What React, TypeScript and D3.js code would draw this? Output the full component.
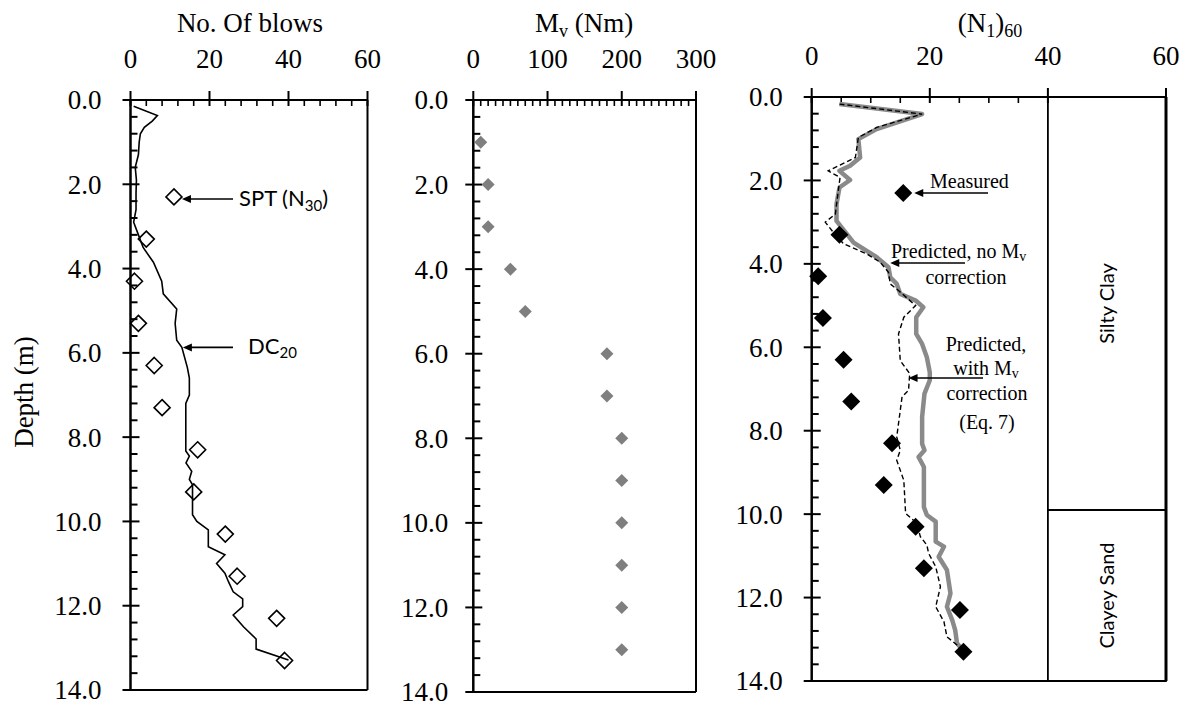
import React from 'react'
import { scaleLinear, line, range } from 'd3'

const W = 1189
const H = 709

// depth axis (m), shared by all three panels
const depthTicks = [0, 2, 4, 6, 8, 10, 12, 14]
const blowTicks = [0, 20, 40, 60]
const mvTicks = [0, 100, 200, 300]
const n60Ticks = [0, 20, 40, 60]

// panel 1: SPT (N30) and DC20 blow counts
const sptDepth = [2.3, 3.3, 4.3, 5.3, 6.3, 7.3, 8.3, 9.3, 10.3, 11.3, 12.3, 13.3]
const sptBlows = [11, 4, 1, 2, 6, 8, 17, 16, 24, 27, 37, 39]

const dcDepth = [0.15, 0.37, 0.5, 0.65, 0.8, 1.0, 1.3, 1.6, 1.9, 2.2, 2.6, 2.9, 3.1, 3.5, 3.85, 4.3, 4.6, 4.96, 5.3, 5.7, 5.87, 6.35, 6.6, 7.0, 7.2, 8.33, 8.45, 8.61, 8.81, 9.0, 9.13, 9.84, 10.0, 10.2, 10.6, 10.79, 11.0, 11.23, 11.43, 11.67, 11.84, 12.02, 12.22, 12.5, 12.79, 13.03, 13.29]
const dcBlows = [0.8, 6.8, 5.5, 3.5, 2.5, 2.2, 2.0, 1.2, 1.5, 1.4, 1.4, 0.8, 1.6, 3.2, 5.8, 7.9, 8.3, 11.7, 11.3, 11.7, 13.0, 14.4, 14.9, 14.9, 14.0, 14.0, 14.9, 14.05, 15.5, 14.9, 15.7, 15.7, 16.8, 19.7, 19.7, 23.9, 21.8, 23.9, 24.8, 26.0, 28.4, 28.4, 26.0, 28.6, 31.8, 31.8, 40]

// panel 2: Mv (Nm)
const mvDepth = [1, 2, 3, 4, 5, 6, 7, 8, 9, 10, 11, 12, 13]
const mvValues = [10, 20, 20, 50, 70, 180, 180, 200, 200, 200, 200, 200, 200]

// panel 3: (N1)60
const measDepth = [2.3, 3.3, 4.3, 5.3, 6.3, 7.3, 8.3, 9.3, 10.3, 11.3, 12.3, 13.3]
const measN = [15.5, 4.7, 1.1, 1.9, 5.4, 6.7, 13.6, 12.2, 17.6, 19.0, 25.1, 25.7]

const noCorrDepth = [0.17, 0.41, 0.77, 1.01, 1.45, 1.65, 1.77, 1.99, 2.17, 2.57, 2.97, 3.13, 3.49, 3.84, 4.08, 4.32, 4.48, 4.72, 4.88, 5.04, 5.28, 5.68, 5.92, 6.24, 6.6, 6.79, 7.11, 7.67, 8.31, 8.47, 8.63, 8.87, 9.83, 10.02, 10.18, 10.66, 10.78, 11.02, 11.34, 11.9, 12.22, 12.54, 12.78, 13.09, 13.25]
const noCorrN = [4.7, 18.7, 11.0, 7.9, 8.2, 6.5, 4.7, 6.5, 4.7, 4.2, 4.2, 5.1, 7.1, 11.0, 13.0, 13.3, 14.4, 15.0, 17.6, 18.9, 17.7, 17.7, 18.7, 19.5, 20.0, 20.0, 19.1, 18.7, 18.7, 19.1, 18.1, 19.0, 19.0, 19.5, 21.0, 21.0, 22.4, 21.5, 22.9, 23.5, 22.9, 23.8, 24.3, 24.6, 25.5]

const withCorrDepth = [0.17, 0.41, 0.73, 0.97, 1.45, 1.77, 1.93, 2.25, 2.81, 3.0, 3.25, 3.52, 3.76, 3.96, 4.2, 4.48, 4.64, 5.0, 5.28, 5.68, 6.32, 6.63, 7.03, 7.19, 8.15, 8.47, 8.71, 9.19, 9.98, 10.22, 10.54, 10.74, 10.94, 11.26, 11.74, 12.22, 12.58, 12.94, 13.17, 13.33]
const withCorrN = [4.7, 18.7, 11.0, 7.9, 7.4, 2.8, 4.8, 4.5, 4.0, 2.3, 3.7, 5.4, 9.3, 11.6, 13.0, 13.3, 14.7, 17.6, 15.6, 14.7, 15.0, 16.6, 16.4, 15.3, 14.4, 15.0, 14.4, 15.6, 15.9, 17.8, 18.4, 19.5, 19.8, 21.0, 21.8, 21.0, 22.4, 22.9, 24.9, 25.5]

// soil column
const soilNames = ['Silty Clay', 'Clayey Sand']
const soilTop = [0, 9.9]
const soilBottom = [9.9, 14]

const serif = "'Liberation Serif', 'Times New Roman', serif"
const sans = "Lato, 'Open Sans', sans-serif"

const x1 = scaleLinear().domain([0, 60]).range([130.5, 367.5])
const y1 = scaleLinear().domain([0, 14]).range([100, 690])
const x2 = scaleLinear().domain([0, 300]).range([473.3, 696])
const y2 = scaleLinear().domain([0, 14]).range([100, 692])
const x3 = scaleLinear().domain([0, 60]).range([811.7, 1166])
const y3 = scaleLinear().domain([0, 14]).range([97, 681])

const diamond = (r: number) => `M0,${-r}L${r},0L0,${r}L${-r},0Z`

const Frame = ({ xs, ys, xTicks, xMinor, yMinor, labelGap, minorMax }: any) => {
    const [l, r] = xs.range()
    const [t, b] = ys.range()
    const xm = range(xTicks[0], minorMax ?? xTicks[xTicks.length - 1], xMinor).filter(v => !xTicks.includes(v))
    const ym = range(0, 14, yMinor).filter(v => Math.abs(v / 2 - Math.round(v / 2)) > 1e-6)
    return (
        <g stroke="#000" fontFamily={serif} fontSize={27}>
            <line x1={l} x2={r} y1={t} y2={t} strokeWidth={2} />
            <line x1={l} x2={r} y1={b} y2={b} strokeWidth={2} />
            <line x1={r} x2={r} y1={t} y2={b} strokeWidth={2} />
            <line x1={l} x2={l} y1={t} y2={b} strokeWidth={2.5} />
            {xTicks.map(v => (
                <g key={'x' + v}>
                    <line x1={xs(v)} x2={xs(v)} y1={t - 9} y2={t + 6} strokeWidth={2} />
                    <text x={xs(v)} y={t - 32} textAnchor="middle" stroke="none" fill="#000">{v}</text>
                </g>
            ))}
            {xm.map(v => (
                <line key={'xm' + v} x1={xs(v)} x2={xs(v)} y1={t} y2={t + 6} strokeWidth={1.6} />
            ))}
            {depthTicks.map(d => (
                <g key={'y' + d}>
                    <line x1={l - 8} x2={l + 9} y1={ys(d)} y2={ys(d)} strokeWidth={2} />
                    <text x={l - labelGap} y={ys(d)} dy="0.35em" textAnchor="end" stroke="none" fill="#000">{d.toFixed(1)}</text>
                </g>
            ))}
            {ym.map(d => (
                <line key={'ym' + d} x1={l} x2={l + 7} y1={ys(d)} y2={ys(d)} strokeWidth={2} />
            ))}
        </g>
    )
}

const Arrow = ({ from, to, y }: any) => (
    <g>
        <line x1={from} x2={to + 6} y1={y} y2={y} stroke="#000" strokeWidth={1.6} />
        <path d={`M${to},${y}L${to + 9},${y - 4}L${to + 9},${y + 4}Z`} fill="#000" />
    </g>
)

const App = () => {
    const dcLine = line<number>().x((_, i) => x1(dcBlows[i])).y(d => y1(d))
    const noCorrLine = line<number>().x((_, i) => x3(noCorrN[i])).y(d => y3(d))
    const withCorrLine = line<number>().x((_, i) => x3(withCorrN[i])).y(d => y3(d))
    const soilX0 = x3(40)
    const soilX1 = x3(60)

    return (
        <svg width={W} height={H} style={{ position: 'absolute', left: 0, top: 0, background: '#fff' }}>
            {/* titles */}
            <text x={250} y={32} textAnchor="middle" fontFamily={serif} fontSize={27}>No. Of blows</text>
            <text x={584} y={32} textAnchor="middle" fontFamily={serif} fontSize={27}>
                M<tspan fontSize={18} dy={5}>v</tspan><tspan dy={-5}> (Nm)</tspan>
            </text>
            <text x={990} y={32} textAnchor="middle" fontFamily={serif} fontSize={27}>
                (N<tspan fontSize={18} dy={5}>1</tspan><tspan dy={-5}>)</tspan><tspan fontSize={18} dy={5}>60</tspan>
            </text>
            <text transform="translate(33,392) rotate(-90)" textAnchor="middle" fontFamily={serif} fontSize={27}>Depth (m)</text>

            {/* panel 1 */}
            <Frame xs={x1} ys={y1} xTicks={blowTicks} xMinor={4} yMinor={0.4} labelGap={29} />
            <path d={dcLine(dcDepth) || ''} fill="none" stroke="#000" strokeWidth={1.6} />
            {sptDepth.map((d, i) => (
                <path key={i} d={diamond(8)} transform={`translate(${x1(sptBlows[i])},${y1(d)})`} fill="none" stroke="#000" strokeWidth={1.6} />
            ))}
            <Arrow from={233} to={x1(sptBlows[0]) + 8} y={y1(sptDepth[0]) + 2} />
            <text x={239} y={206} fontFamily={sans} fontSize={22}>
                SPT (N<tspan fontSize={15} dy={5}>30</tspan><tspan dy={-5}>)</tspan>
            </text>
            <Arrow from={233} to={x1(13.0) + 1} y={y1(5.87)} />
            <text x={248} y={354} fontFamily={sans} fontSize={22}>
                DC<tspan fontSize={15} dy={4}>20</tspan>
            </text>

            {/* panel 2 */}
            <Frame xs={x2} ys={y2} xTicks={mvTicks} xMinor={10} yMinor={0.4} labelGap={25} />
            {mvDepth.map((d, i) => (
                <path key={i} d={diamond(6.5)} transform={`translate(${x2(mvValues[i])},${y2(d)})`} fill="#7f7f7f" />
            ))}

            {/* panel 3 */}
            <Frame xs={x3} ys={y3} xTicks={n60Ticks} xMinor={5} yMinor={0.4} labelGap={29} minorMax={40} />
            {soilNames.map((s, i) => (
                <g key={s}>
                    <rect x={soilX0} y={y3(soilTop[i])} width={soilX1 - soilX0} height={y3(soilBottom[i]) - y3(soilTop[i])} fill="none" stroke="#000" strokeWidth={1.8} />
                    <text transform={`translate(${(soilX0 + soilX1) / 2 + 7},${(y3(soilTop[i]) + y3(soilBottom[i])) / 2}) rotate(-90)`} textAnchor="middle" fontFamily={sans} fontSize={20}>{s}</text>
                </g>
            ))}
            <line x1={soilX1} x2={soilX1} y1={y3(0)} y2={y3(14)} stroke="#000" strokeWidth={3} />
            <path d={noCorrLine(noCorrDepth) || ''} fill="none" stroke="#8a8a8a" strokeWidth={4.5} strokeLinejoin="round" />
            <path d={withCorrLine(withCorrDepth) || ''} fill="none" stroke="#000" strokeWidth={1.4} strokeDasharray="5,3" />
            {measDepth.map((d, i) => (
                <path key={i} d={diamond(9)} transform={`translate(${x3(measN[i])},${y3(d)})`} fill="#000" />
            ))}

            <g fontFamily={serif} fontSize={20}>
                <Arrow from={988} to={x3(measN[0]) + 11} y={193} />
                <text x={930} y={188}>Measured</text>
                <Arrow from={965} to={x3(13.3)} y={263} />
                <text x={891} y={258}>Predicted, no M<tspan fontSize={14} dy={3}>v</tspan></text>
                <text x={966} y={284} textAnchor="middle">correction</text>
                <text x={986} y={351} textAnchor="middle">Predicted,</text>
                <text x={986} y={375} textAnchor="middle">with M<tspan fontSize={14} dy={3}>v</tspan></text>
                <Arrow from={983} to={x3(16.4)} y={378} />
                <text x={987} y={400} textAnchor="middle">correction</text>
                <text x={987} y={429} textAnchor="middle">(Eq. 7)</text>
            </g>
        </svg>
    )
}

export default App
